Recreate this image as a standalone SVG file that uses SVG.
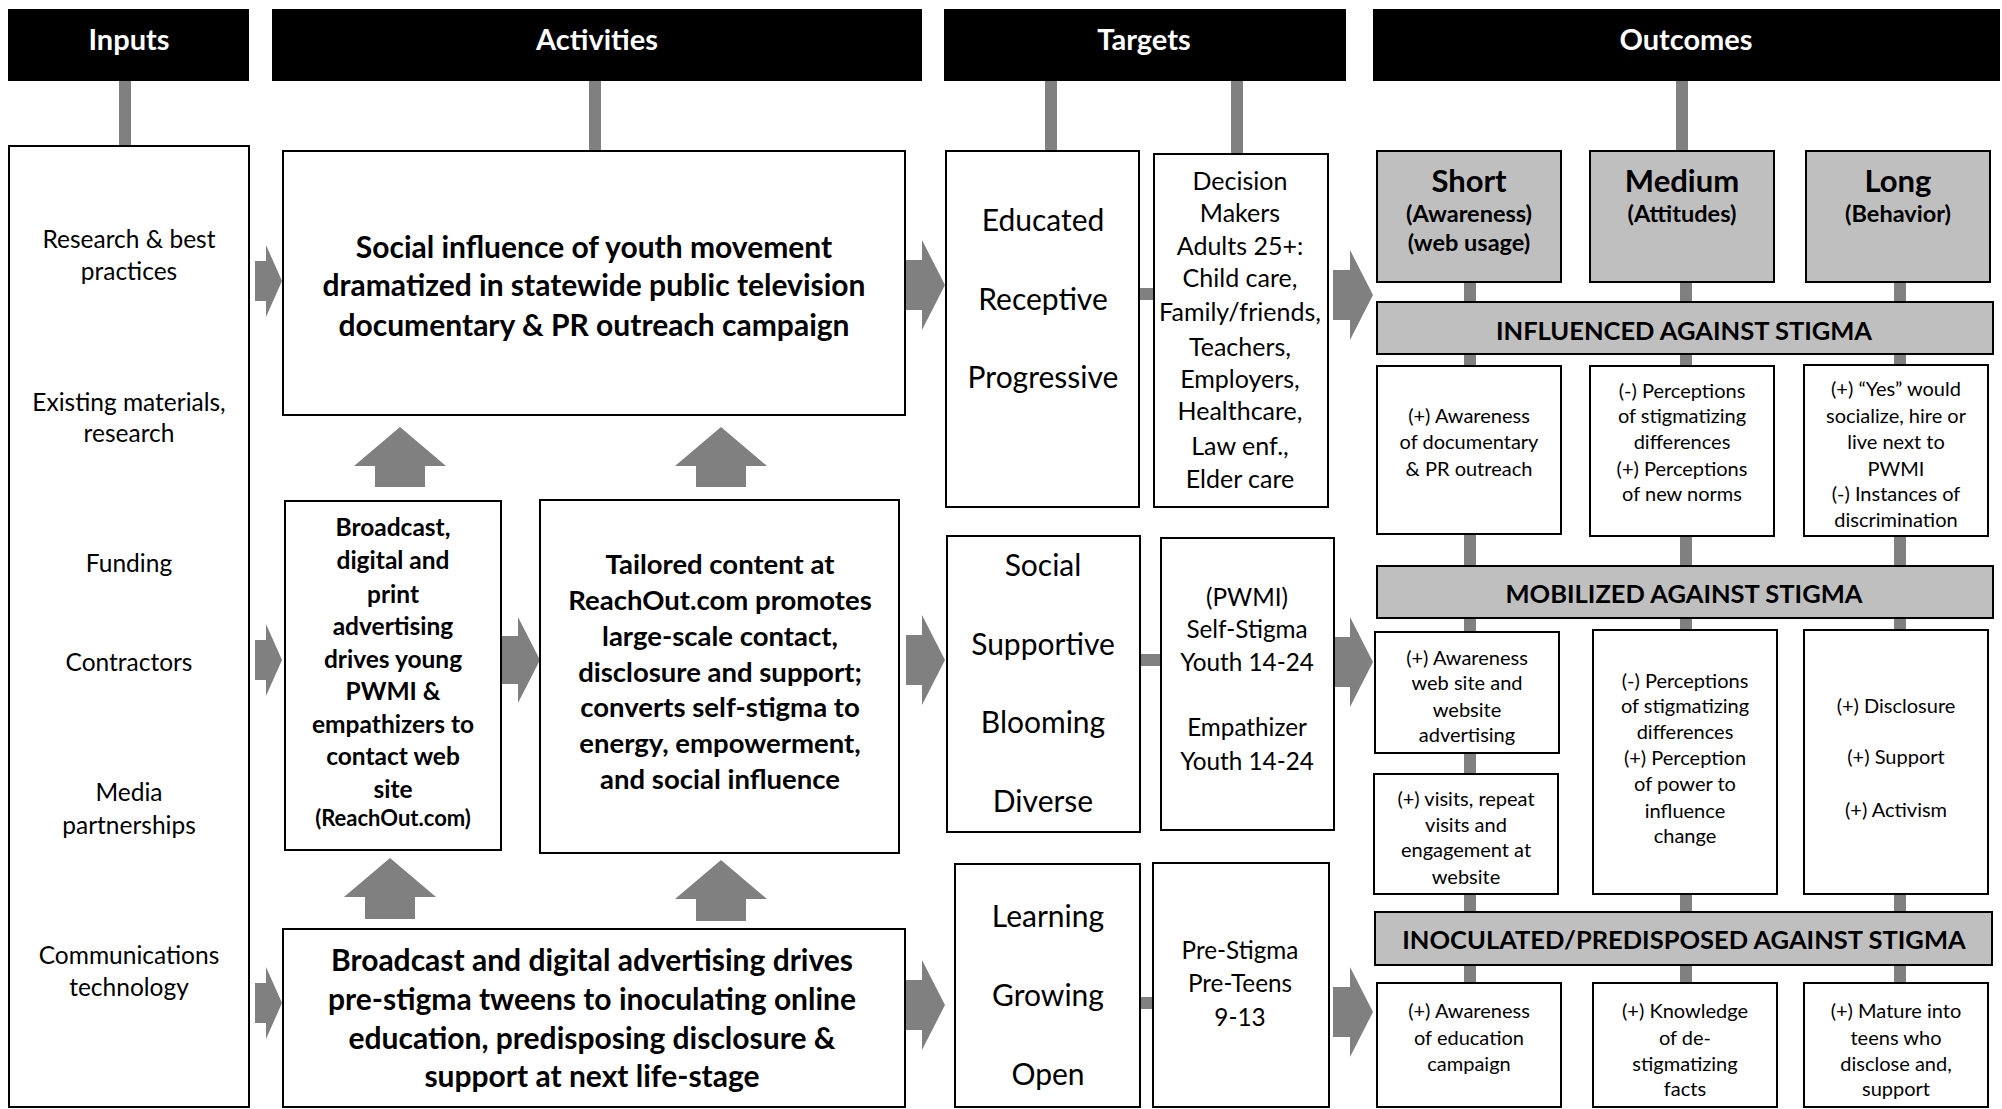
<svg xmlns="http://www.w3.org/2000/svg" width="2002" height="1109" viewBox="0 0 2002 1109">
<style>
text{font-family:Lato,"Open Sans","DejaVu Sans",sans-serif;fill:#000;text-anchor:middle}
.hd{fill:#000}
.ht{fill:#fff;font-weight:bold;font-size:29px}
.box{fill:#fff;stroke:#000;stroke-width:2}
.gbox{fill:#bfbfbf;stroke:#000;stroke-width:2}
.stub{stroke:#808080;stroke-width:12;fill:none}
.arr{fill:#808080}
.in{font-size:24.5px}
.b27{font-size:30px;font-weight:bold}
.b25{font-size:24.5px;font-weight:bold}
.b28{font-size:27.5px;font-weight:bold}
.b30{font-size:30px;font-weight:bold}
.tg{font-size:30px}
.tr{font-size:25px}
.tr2{font-size:24.3px}
.ot{font-size:31px;font-weight:bold}
.os{font-size:23.5px;font-weight:bold}
.bar{font-size:25.5px;font-weight:bold}
.sm{font-size:20px}
</style>
<g id="connectors">
<line class="stub" x1="125" y1="80" x2="125" y2="147"/>
<line class="stub" x1="595" y1="80" x2="595" y2="152"/>
<line class="stub" x1="1051" y1="80" x2="1051" y2="152"/>
<line class="stub" x1="1237" y1="80" x2="1237" y2="154"/>
<line class="stub" x1="1682" y1="80" x2="1682" y2="152"/>
<line class="stub" x1="1136" y1="294" x2="1156" y2="294"/>
<line class="stub" x1="1136" y1="660" x2="1163" y2="660"/>
<line class="stub" x1="1136" y1="1003" x2="1155" y2="1003"/>
<line class="stub" x1="1470" y1="280" x2="1470" y2="985"/>
<line class="stub" x1="1686" y1="280" x2="1686" y2="985"/>
<line class="stub" x1="1900" y1="280" x2="1900" y2="985"/>
<path class="arr" d="M255,261 H266 V245 L282,281 L266,317 V301 H255 Z"/>
<path class="arr" d="M255,640 H266 V624 L282,660 L266,696 V680 H255 Z"/>
<path class="arr" d="M255,983 H266 V967 L282,1003 L266,1039 V1023 H255 Z"/>
<path class="arr" d="M906,260 H922 V240 L945,285 L922,330 V310 H906 Z"/>
<path class="arr" d="M906,635 H922 V615 L945,660 L922,705 V685 H906 Z"/>
<path class="arr" d="M906,980 H922 V960 L945,1005 L922,1050 V1030 H906 Z"/>
<path class="arr" d="M502,636 H518 V617 L540,660 L518,703 V684 H502 Z"/>
<path class="arr" d="M1333,270 H1350 V250 L1373,295 L1350,340 V320 H1333 Z"/>
<path class="arr" d="M1333,637 H1350 V617 L1373,662 L1350,707 V687 H1333 Z"/>
<path class="arr" d="M1333,987 H1350 V967 L1373,1012 L1350,1057 V1037 H1333 Z"/>
<path class="arr" d="M400,427 L446,466 H425 V487 H375 V466 H354 Z"/>
<path class="arr" d="M721,427 L767,466 H746 V487 H696 V466 H675 Z"/>
<path class="arr" d="M390,858 L436,897 H415 V919 H365 V897 H344 Z"/>
<path class="arr" d="M721,860 L767,899 H746 V921 H696 V899 H675 Z"/>
</g>
<g id="header-inputs"><rect class="hd" x="8" y="9" width="241" height="72"/><text class="ht" x="129" y="50">Inputs</text></g>
<g id="header-activities"><rect class="hd" x="272" y="9" width="650" height="72"/><text class="ht" x="597" y="50">Activities</text></g>
<g id="header-targets"><rect class="hd" x="944" y="9" width="402" height="72"/><text class="ht" x="1144" y="50">Targets</text></g>
<g id="header-outcomes"><rect class="hd" x="1373" y="9" width="627" height="72"/><text class="ht" x="1686" y="50">Outcomes</text></g>
<g id="inputs"><rect class="box" x="9" y="146" width="240" height="961"/>
<text class="in"><tspan x="129" y="248">Research &amp; best</tspan><tspan x="129" y="280">practices</tspan><tspan x="129" y="411">Existing materials,</tspan><tspan x="129" y="442">research</tspan><tspan x="129" y="572">Funding</tspan><tspan x="129" y="671">Contractors</tspan><tspan x="129" y="801">Media</tspan><tspan x="129" y="834">partnerships</tspan><tspan x="129" y="964">Communications</tspan><tspan x="129" y="996">technology</tspan></text></g>
<g id="activity-documentary"><rect class="box" x="283" y="151" width="622" height="264"/>
<text class="b27"><tspan x="594" y="258">Social influence of youth movement</tspan><tspan x="594" y="296">dramatized in statewide public television</tspan><tspan x="594" y="336">documentary &amp; PR outreach campaign</tspan></text></g>
<g id="activity-advertising"><rect class="box" x="285" y="501" width="216" height="349"/>
<text class="b25"><tspan x="393" y="536">Broadcast,</tspan><tspan x="393" y="569">digital and</tspan><tspan x="393" y="603">print</tspan><tspan x="393" y="635">advertising</tspan><tspan x="393" y="668">drives young</tspan><tspan x="393" y="700">PWMI &amp;</tspan><tspan x="393" y="733">empathizers to</tspan><tspan x="393" y="765">contact web</tspan><tspan x="393" y="798">site</tspan><tspan x="393" y="826" style="font-size:22px">(ReachOut.com)</tspan></text></g>
<g id="activity-tailored"><rect class="box" x="540" y="500" width="359" height="353"/>
<text class="b28"><tspan x="720" y="574">Tailored content at</tspan><tspan x="720" y="610">ReachOut.com promotes</tspan><tspan x="720" y="646">large-scale contact,</tspan><tspan x="720" y="682">disclosure and support;</tspan><tspan x="720" y="717">converts self-stigma to</tspan><tspan x="720" y="753">energy, empowerment,</tspan><tspan x="720" y="789">and social influence</tspan></text></g>
<g id="activity-prestigma"><rect class="box" x="283" y="929" width="622" height="178"/>
<text class="b30"><tspan x="592" y="971">Broadcast and digital advertising drives</tspan><tspan x="592" y="1010">pre-stigma tweens to inoculating online</tspan><tspan x="592" y="1049">education, predisposing disclosure &amp;</tspan><tspan x="592" y="1087">support at next life-stage</tspan></text></g>
<g id="target-1-traits"><rect class="box" x="946" y="151" width="193" height="356"/>
<text class="tg"><tspan x="1043" y="231">Educated</tspan><tspan x="1043" y="310">Receptive</tspan><tspan x="1043" y="388">Progressive</tspan></text></g>
<g id="target-1-groups"><rect class="box" x="1154" y="154" width="174" height="353"/>
<text class="tr"><tspan x="1240" y="190">Decision</tspan><tspan x="1240" y="222">Makers</tspan><tspan x="1240" y="255">Adults 25+:</tspan><tspan x="1240" y="287">Child care,</tspan><tspan x="1240" y="321">Family/friends,</tspan><tspan x="1240" y="356">Teachers,</tspan><tspan x="1240" y="388">Employers,</tspan><tspan x="1240" y="420">Healthcare,</tspan><tspan x="1240" y="455">Law enf.,</tspan><tspan x="1240" y="488">Elder care</tspan></text></g>
<g id="target-2-traits"><rect class="box" x="947" y="536" width="193" height="296"/>
<text class="tg"><tspan x="1043" y="576">Social</tspan><tspan x="1043" y="655">Supportive</tspan><tspan x="1043" y="733">Blooming</tspan><tspan x="1043" y="812">Diverse</tspan></text></g>
<g id="target-2-groups"><rect class="box" x="1161" y="538" width="173" height="292"/>
<text class="tr2"><tspan x="1247" y="606">(PWMI)</tspan><tspan x="1247" y="638">Self-Stigma</tspan><tspan x="1247" y="671">Youth 14-24</tspan><tspan x="1247" y="736">Empathizer</tspan><tspan x="1247" y="770">Youth 14-24</tspan></text></g>
<g id="target-3-traits"><rect class="box" x="955" y="864" width="185" height="243"/>
<text class="tg"><tspan x="1048" y="927">Learning</tspan><tspan x="1048" y="1006">Growing</tspan><tspan x="1048" y="1085">Open</tspan></text></g>
<g id="target-3-groups"><rect class="box" x="1153" y="863" width="176" height="244"/>
<text class="tr2"><tspan x="1240" y="959">Pre-Stigma</tspan><tspan x="1240" y="992">Pre-Teens</tspan><tspan x="1240" y="1026">9-13</tspan></text></g>
<g id="outcome-short"><rect class="gbox" x="1377" y="151" width="184" height="131"/>
<text><tspan class="ot" x="1469" y="192">Short</tspan><tspan class="os" x="1469" y="222">(Awareness)</tspan><tspan class="os" x="1469" y="251">(web usage)</tspan></text></g>
<g id="outcome-medium"><rect class="gbox" x="1590" y="151" width="184" height="131"/>
<text><tspan class="ot" x="1682" y="192">Medium</tspan><tspan class="os" x="1682" y="222">(Attitudes)</tspan></text></g>
<g id="outcome-long"><rect class="gbox" x="1806" y="151" width="184" height="131"/>
<text><tspan class="ot" x="1898" y="192">Long</tspan><tspan class="os" x="1898" y="222">(Behavior)</tspan></text></g>
<g id="bar-influenced"><rect class="gbox" x="1377" y="302" width="616" height="52"/><text class="bar" x="1684" y="340">INFLUENCED AGAINST STIGMA</text></g>
<g id="infl-short"><rect class="box" x="1377" y="366" width="184" height="168"/>
<text class="sm"><tspan x="1469" y="423">(+) Awareness</tspan><tspan x="1469" y="449">of documentary</tspan><tspan x="1469" y="476">&amp; PR outreach</tspan></text></g>
<g id="infl-medium"><rect class="box" x="1590" y="366" width="184" height="170"/>
<text class="sm"><tspan x="1682" y="398">(-) Perceptions</tspan><tspan x="1682" y="423">of stigmatizing</tspan><tspan x="1682" y="449">differences</tspan><tspan x="1682" y="476">(+) Perceptions</tspan><tspan x="1682" y="501">of new norms</tspan></text></g>
<g id="infl-long"><rect class="box" x="1804" y="365" width="184" height="171"/>
<text class="sm"><tspan x="1896" y="396">(+) “Yes” would</tspan><tspan x="1896" y="423">socialize, hire or</tspan><tspan x="1896" y="449">live next to</tspan><tspan x="1896" y="476">PWMI</tspan><tspan x="1896" y="501">(-) Instances of</tspan><tspan x="1896" y="527">discrimination</tspan></text></g>
<g id="bar-mobilized"><rect class="gbox" x="1377" y="566" width="616" height="52"/><text class="bar" x="1684" y="603">MOBILIZED AGAINST STIGMA</text></g>
<g id="mob-short-1"><rect class="box" x="1375" y="632" width="184" height="121"/>
<text class="sm"><tspan x="1467" y="665">(+) Awareness</tspan><tspan x="1467" y="690">web site and</tspan><tspan x="1467" y="717">website</tspan><tspan x="1467" y="742">advertising</tspan></text></g>
<g id="mob-short-2"><rect class="box" x="1374" y="774" width="184" height="120"/>
<text class="sm"><tspan x="1466" y="806">(+) visits, repeat</tspan><tspan x="1466" y="832">visits and</tspan><tspan x="1466" y="857">engagement at</tspan><tspan x="1466" y="884">website</tspan></text></g>
<g id="mob-medium"><rect class="box" x="1593" y="630" width="184" height="264"/>
<text class="sm"><tspan x="1685" y="688">(-) Perceptions</tspan><tspan x="1685" y="713">of stigmatizing</tspan><tspan x="1685" y="739">differences</tspan><tspan x="1685" y="765">(+) Perception</tspan><tspan x="1685" y="791">of power to</tspan><tspan x="1685" y="818">influence</tspan><tspan x="1685" y="843">change</tspan></text></g>
<g id="mob-long"><rect class="box" x="1804" y="630" width="184" height="264"/>
<text class="sm"><tspan x="1896" y="713">(+) Disclosure</tspan><tspan x="1896" y="764">(+) Support</tspan><tspan x="1896" y="817">(+) Activism</tspan></text></g>
<g id="bar-inoculated"><rect class="gbox" x="1375" y="912" width="617" height="53"/><text class="bar" x="1684" y="949">INOCULATED/PREDISPOSED AGAINST STIGMA</text></g>
<g id="inoc-short"><rect class="box" x="1377" y="983" width="184" height="124"/>
<text class="sm"><tspan x="1469" y="1018">(+) Awareness</tspan><tspan x="1469" y="1045">of education</tspan><tspan x="1469" y="1071">campaign</tspan></text></g>
<g id="inoc-medium"><rect class="box" x="1593" y="983" width="184" height="124"/>
<text class="sm"><tspan x="1685" y="1018">(+) Knowledge</tspan><tspan x="1685" y="1045">of de-</tspan><tspan x="1685" y="1071">stigmatizing</tspan><tspan x="1685" y="1096">facts</tspan></text></g>
<g id="inoc-long"><rect class="box" x="1804" y="983" width="184" height="124"/>
<text class="sm"><tspan x="1896" y="1018">(+) Mature into</tspan><tspan x="1896" y="1045">teens who</tspan><tspan x="1896" y="1071">disclose and,</tspan><tspan x="1896" y="1096">support</tspan></text></g>
</svg>
